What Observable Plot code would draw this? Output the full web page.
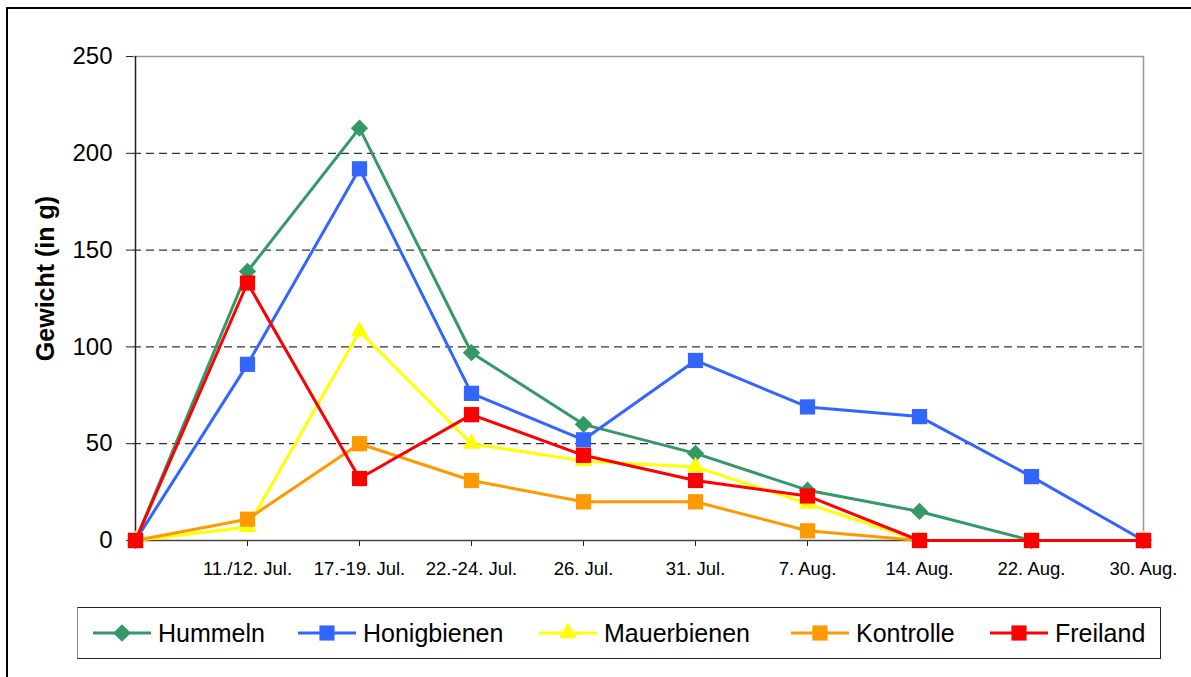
<!DOCTYPE html>
<html>
<head>
<meta charset="utf-8">
<script src="https://cdn.jsdelivr.net/npm/d3@7"></script>
<script src="https://cdn.jsdelivr.net/npm/@observablehq/plot@0.6"></script>
<style>
  html, body { margin: 0; padding: 0; background: #fff; }
  body { width: 1191px; height: 677px; position: relative; overflow: hidden; font-family: "Liberation Sans", Arial, sans-serif; }
  #frame { position: absolute; left: 6px; top: 7px; width: 1200px; height: 700px; border: 2px solid #000; box-sizing: border-box; }
  #chart { position: absolute; left: 0; top: 0; }
  #legend { position: absolute; left: 77px; top: 607px; width: 1084px; height: 52px; border: 1px solid #222; border-left-color: #888; box-sizing: border-box; background: #fff; }
  .item { position: absolute; top: 0; height: 50px; display: flex; align-items: center; font-size: 25px; color: #000; }
  .item svg { margin-right: 7px; }
</style>
</head>
<body>
<div id="frame"></div>
<div id="chart"></div>
<div id="legend"></div>
<script>
// ---- data ----
const categories = ["", "11./12. Jul.", "17.-19. Jul.", "22.-24. Jul.", "26. Jul.", "31. Jul.", "7. Aug.", "14. Aug.", "22. Aug.", "30. Aug."];
const seriesNames = ["Hummeln", "Honigbienen", "Mauerbienen", "Kontrolle", "Freiland"];
const hummeln     = [0, 139, 213, 97, 60, 45, 26, 15, 0, 0];
const honigbienen = [0, 91, 192, 76, 52, 93, 69, 64, 33, 0];
const mauerbienen = [0, 7, 108, 50, 41, 38, 19, 0, 0, 0];
const kontrolle   = [0, 11, 50, 31, 20, 20, 5, 0, 0, 0];
const freiland    = [0, 133, 32, 65, 44, 31, 23, 0, 0, 0];
const yTicks = [0, 50, 100, 150, 200, 250];
const gridTicks = [50, 100, 150, 200];
const yLabel = "Gewicht (in g)";

const seriesValues = [hummeln, honigbienen, mauerbienen, kontrolle, freiland];
const colors = ["#339966", "#3366FF", "#FFFF00", "#FF9900", "#FF0000"];
const symbols = ["diamond2", "square", "triangle", "square", "square"];
const radii = [7.8, 8.6, 6.6, 8.6, 8.6];

const rows = seriesNames.map((name, si) =>
  categories.map((c, i) => ({series: name, cat: c, value: seriesValues[si][i]}))
);

const seriesMarks = [];
seriesNames.forEach((name, si) => {
  seriesMarks.push(Plot.line(rows[si], {x: "cat", y: "value", stroke: colors[si], strokeWidth: 3}));
  seriesMarks.push(Plot.dot(rows[si], {x: "cat", y: "value", symbol: () => symbols[si], r: radii[si], fill: colors[si], stroke: "none"}));
});

const chart = Plot.plot({
  width: 1191,
  height: 600,
  marginTop: 56,
  marginBottom: 60,
  marginLeft: 133,
  marginRight: 47,
  style: {fontFamily: "Liberation Sans, Arial, sans-serif", background: "transparent", overflow: "visible"},
  x: {type: "point", domain: categories, padding: 0},
  y: {domain: [0, 250]},
  marks: [
    Plot.ruleY(gridTicks, {stroke: "#000", strokeWidth: 1, strokeDasharray: "8,5"}),
    Plot.ruleY([250], {stroke: "#999", strokeWidth: 1.5}),
    Plot.ruleX([categories[categories.length - 1]], {stroke: "#999", strokeWidth: 1.5}),
    Plot.axisY({ticks: yTicks, tickSize: 7, tickPadding: 14, fontSize: 24, label: null, stroke: "#222", color: "#000"}),
    Plot.axisX({tickSize: 6, tickPadding: 15, fontSize: 18.5, label: null, stroke: "#222", color: "#000"}),
    Plot.ruleX([categories[0]], {stroke: "#222", strokeWidth: 1.5}),
    Plot.ruleY([0], {stroke: "#444", strokeWidth: 1.5}),
    Plot.text([yLabel], {text: d => d, frameAnchor: "left", textAnchor: "middle", dx: -88, dy: -20, rotate: -90, fontSize: 25, fontWeight: "bold", fill: "#000"}),
    ...seriesMarks
  ]
});
document.getElementById("chart").appendChild(chart);

// ---- legend ----
const legend = document.getElementById("legend");
const itemLefts = [15, 220, 461, 713, 912];
const symbolPaths = {
  diamond2: d3.symbol(d3.symbolDiamond2, 200)(),
  square: d3.symbol(d3.symbolSquare, 230)(),
  triangle: d3.symbol(d3.symbolTriangle, 140)()
};
seriesNames.forEach((name, si) => {
  const item = document.createElement("div");
  item.className = "item";
  item.style.left = itemLefts[si] + "px";
  item.innerHTML =
    `<svg width="58" height="24" viewBox="0 0 58 24">` +
    `<line x1="0" y1="12" x2="58" y2="12" stroke="${colors[si]}" stroke-width="3"/>` +
    `<path d="${symbolPaths[symbols[si]]}" transform="translate(29,12)" fill="${colors[si]}"/>` +
    `</svg><span>${name}</span>`;
  legend.appendChild(item);
});
</script>
</body>
</html>
